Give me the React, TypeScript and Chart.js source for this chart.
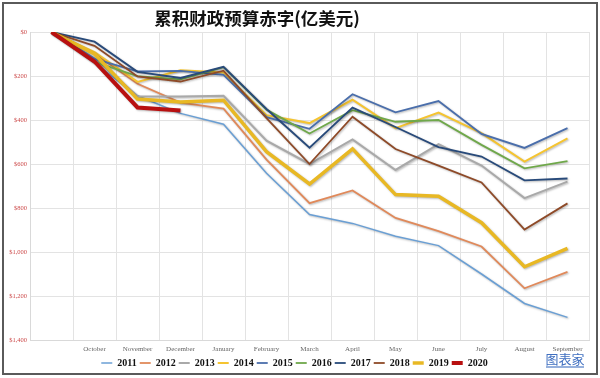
import React, { useEffect, useRef } from "react";
import { Chart, registerables } from "chart.js";

Chart.register(...registerables);

const categories = ["", "October", "November", "December", "January", "February", "March", "April", "May", "June", "July", "August", "September"];
const seriesNames = ["2011", "2012", "2013", "2014", "2015", "2016", "2017", "2018", "2019", "2020"];
const y2011 = [0, 140, 290, 370, 419, 642, 830, 870, 928, 971, 1100, 1234, 1297];
const y2012 = [0, 98, 235, 321, 348, 580, 778, 720, 845, 905, 975, 1165, 1090];
const y2013 = [0, 120, 292, 293, 290, 494, 600, 488, 627, 510, 607, 755, 680];
const y2014 = [0, 91, 227, 174, 184, 378, 414, 308, 437, 366, 460, 589, 483];
const y2015 = [0, 122, 179, 177, 195, 387, 440, 283, 365, 314, 463, 527, 437];
const y2016 = [0, 136, 201, 215, 160, 353, 461, 355, 408, 400, 513, 620, 587];
const y2017 = [0, 44, 181, 209, 158, 350, 526, 344, 432, 523, 566, 674, 666];
const y2018 = [0, 63, 202, 225, 176, 391, 600, 385, 532, 607, 684, 898, 779];
const y2019 = [0, 100, 305, 318, 310, 544, 691, 531, 739, 747, 867, 1067, 984];
const y2020 = [0, 134, 343, 357];
const yTickValues = [0, 200, 400, 600, 800, 1000, 1200, 1400];
const titleText = "累积财政预算赤字(亿美元)";

const seriesValues = [y2011, y2012, y2013, y2014, y2015, y2016, y2017, y2018, y2019, y2020];
const colors = ["#6a9fd4", "#e0895a", "#a9a9a9", "#f5c430", "#4a6eab", "#6fa84a", "#284a7a", "#8e4a28", "#e8b824", "#b81010"];
const widths = [1.5, 1.8, 2, 2, 1.8, 1.8, 1.8, 1.8, 3.5, 4];

const decorPlugin = {
  id: "decor",
  beforeDatasetDraw(chart: any) {
    const ctx = chart.ctx;
    ctx.save();
    ctx.shadowColor = "rgba(0,0,0,0.28)";
    ctx.shadowBlur = 2;
    ctx.shadowOffsetX = 1;
    ctx.shadowOffsetY = 1;
  },
  afterDatasetDraw(chart: any) {
    chart.ctx.restore();
  },
  afterDraw(chart: any) {
    const ctx = chart.ctx;
    ctx.save();
    ctx.fillStyle = "#111";
    ctx.font = "bold 17.5px 'Noto Sans CJK SC', sans-serif";
    ctx.textAlign = "center";
    ctx.textBaseline = "middle";
    ctx.fillText(titleText, 257, 18);
    ctx.fillStyle = "#3f6fc0";
    ctx.font = "13px 'Noto Sans CJK SC', sans-serif";
    ctx.fillText("图表家", 565, 359);
    ctx.fillStyle = "rgba(63,111,192,0.55)";
    ctx.fillRect(546, 366, 38, 2);
    ctx.strokeStyle = "#5a5a5a";
    ctx.lineWidth = 2;
    ctx.strokeRect(3, 3, 594, 371);
    ctx.restore();
  },
};

export default function App() {
  const ref = useRef<HTMLCanvasElement | null>(null);
  useEffect(() => {
    if (!ref.current) return;
    const chart = new Chart(ref.current, {
      type: "line",
      data: {
        labels: categories,
        datasets: seriesNames.map((name, i) => ({
          label: name,
          data: seriesValues[i],
          borderColor: colors[i],
          backgroundColor: colors[i],
          borderWidth: widths[i],
          pointRadius: 0,
          tension: 0,
          fill: false,
          order: 20 - i,
        })),
      },
      options: {
        animation: false,
        responsive: false,
        layout: { padding: { left: 0, right: 11, top: 32, bottom: 0 } },
        plugins: {
          title: { display: false },
          tooltip: { enabled: false },
          legend: {
            position: "bottom",
            labels: {
              usePointStyle: true,
              pointStyle: "line",
              pointStyleWidth: 11,
              boxHeight: 10,
              padding: 3,
              color: "#111",
              font: { family: "'Liberation Serif', serif", size: 10, weight: "bold" },
              sort: (a: any, b: any) => a.datasetIndex - b.datasetIndex,
            },
          },
        },
        scales: {
          x: {
            type: "category",
            offset: true,
            grid: { color: "#e3e3e3", offset: true, drawTicks: false },
            border: { color: "#d9d9d9" },
            ticks: {
              color: "#666",
              padding: 5,
              maxRotation: 0,
              autoSkip: false,
              font: { family: "'Liberation Serif', serif", size: 7 },
            },
            afterFit: (s: any) => { s.height = 15; },
          },
          y: {
            reverse: true,
            min: 0,
            max: 1400,
            afterBuildTicks: (s: any) => { s.ticks = yTickValues.map((v) => ({ value: v })); },
            grid: { color: "#e3e3e3", drawTicks: false },
            border: { color: "#d9d9d9" },
            ticks: {
              color: "#cc4a4a",
              padding: 3,
              font: { family: "'Liberation Serif', serif", size: 6.5 },
              callback: (v: any) => "$" + Number(v).toLocaleString("en-US"),
            },
            afterFit: (s: any) => { s.width = 30; },
          },
        },
      },
      plugins: [decorPlugin],
    });
    return () => chart.destroy();
  }, []);
  return (
    <div style={{ position: "fixed", left: 0, top: 0, width: 600, height: 378, background: "#fff" }}>
      <canvas ref={ref} width={600} height={378} style={{ width: 600, height: 378, display: "block" }} />
    </div>
  );
}
